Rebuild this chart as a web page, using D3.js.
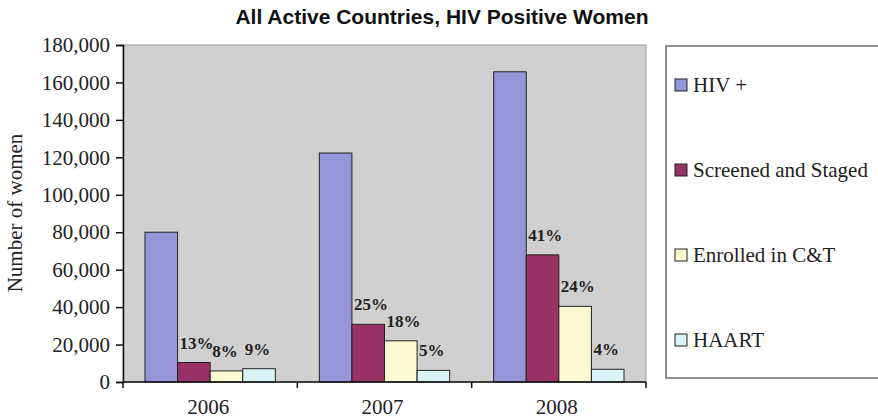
<!DOCTYPE html>
<html>
<head>
<meta charset="utf-8">
<script src="https://cdn.jsdelivr.net/npm/d3@7"></script>
<style>
  body { margin: 0; background: #fff; }
</style>
</head>
<body>
<div id="chart"></div>
<script>
// Data
const years = ["2006", "2007", "2008"];
const seriesNames = ["HIV +", "Screened and Staged", "Enrolled in C&T", "HAART"];
const hivPositive = [80000, 122300, 165700];
const screened = [10400, 30800, 67900];
const enrolled = [5900, 22000, 40400];
const haart = [7100, 6200, 6800];
const screenedPct = ["13%", "25%", "41%"];
const enrolledPct = ["8%", "18%", "24%"];
const haartPct = ["9%", "5%", "4%"];
const yTicks = [0, 20000, 40000, 60000, 80000, 100000, 120000, 140000, 160000, 180000];

const colors = ["#9595d7", "#993366", "#fbf9cf", "#d9f4f4"];
const seriesValues = [hivPositive, screened, enrolled, haart];
const seriesPct = [null, screenedPct, enrolledPct, haartPct];

const W = 878, H = 420;
const margin = { top: 45, left: 123 };
const width = 646 - 123, height = 382 - 45;

const svg = d3.select("#chart").append("svg")
    .attr("width", W)
    .attr("height", H);

const g = svg.append("g")
    .attr("transform", `translate(${margin.left},${margin.top})`);

// Scales
const x0 = d3.scaleBand()
    .domain(years)
    .range([0, width])
    .paddingInner(0)
    .paddingOuter(0);

const x1 = d3.scaleBand()
    .domain(d3.range(seriesNames.length))
    .range([22, x0.bandwidth() - 22]);

const y = d3.scaleLinear()
    .domain([0, 180000])
    .range([height, 0]);

// Plot background
g.append("rect")
    .attr("width", width)
    .attr("height", height)
    .attr("fill", "#d0d0d0")
    .attr("stroke", "#9a9a9a")
    .attr("stroke-width", 1);

// Bars
const rows = years.map((yr, i) => seriesValues.map((vals, s) => ({
    year: yr, s: s, value: vals[i], pct: seriesPct[s] ? seriesPct[s][i] : null
})));

const groups = g.selectAll(".year")
    .data(rows)
    .enter().append("g")
    .attr("transform", (d, i) => `translate(${x0(years[i])},0)`);

groups.selectAll("rect")
    .data(d => d)
    .enter().append("rect")
    .attr("x", d => x1(d.s))
    .attr("y", d => y(d.value))
    .attr("width", x1.bandwidth())
    .attr("height", d => height - y(d.value))
    .attr("fill", d => colors[d.s])
    .attr("stroke", "#222")
    .attr("stroke-width", 1);

groups.selectAll("text")
    .data(d => d.filter(e => e.pct))
    .enter().append("text")
    .attr("x", d => x1(d.s) + 2)
    .attr("y", d => y(d.value) - 14)
    .style("font-family", "'Liberation Serif', 'Times New Roman', serif")
    .style("font-weight", "bold")
    .style("font-size", "17px")
    .attr("fill", "#222")
    .text(d => d.pct);

// Y axis
const yAxis = g.append("g")
    .call(d3.axisLeft(y).tickValues(yTicks).tickFormat(d3.format(",")).tickSize(7).tickPadding(6));
yAxis.select(".domain").attr("stroke", "#111").attr("stroke-width", 1.5);
yAxis.selectAll("line").attr("stroke", "#111").attr("stroke-width", 1.5);
yAxis.selectAll("text")
    .style("font-family", "'Liberation Serif', 'Times New Roman', serif")
    .style("font-size", "21px")
    .attr("fill", "#222");

// X axis (ticks at category boundaries)
const xAxisG = g.append("g").attr("transform", `translate(0,${height})`);
xAxisG.append("line")
    .attr("x1", 0).attr("x2", width)
    .attr("stroke", "#111").attr("stroke-width", 1.5);
xAxisG.selectAll(".tick")
    .data([0, ...years.map(yr => x0(yr) + x0.bandwidth())])
    .enter().append("line")
    .attr("x1", d => d).attr("x2", d => d)
    .attr("y1", 0).attr("y2", 6)
    .attr("stroke", "#111").attr("stroke-width", 1.5);
xAxisG.selectAll(".lbl")
    .data(years)
    .enter().append("text")
    .attr("x", d => x0(d) + x0.bandwidth() / 2 - 2)
    .attr("y", 32)
    .attr("text-anchor", "middle")
    .style("font-family", "'Liberation Serif', 'Times New Roman', serif")
    .style("font-size", "21px")
    .attr("fill", "#222")
    .text(d => d);

// Y axis title
svg.append("text")
    .attr("transform", "rotate(-90)")
    .attr("x", -213)
    .attr("y", 22)
    .attr("text-anchor", "middle")
    .style("font-family", "'Liberation Serif', 'Times New Roman', serif")
    .style("font-size", "21px")
    .attr("fill", "#222")
    .text("Number of women");

// Title
svg.append("text")
    .attr("x", 442)
    .attr("y", 24)
    .attr("text-anchor", "middle")
    .style("font-family", "'Liberation Sans', Arial, sans-serif")
    .style("font-weight", "bold")
    .style("font-size", "21px")
    .attr("fill", "#111")
    .text("All Active Countries, HIV Positive Women");

// Legend
const legend = svg.append("g");
legend.append("rect")
    .attr("x", 666).attr("y", 46)
    .attr("width", 240).attr("height", 332)
    .attr("fill", "#fff")
    .attr("stroke", "#222").attr("stroke-width", 1);

const legendY = d3.scalePoint()
    .domain(seriesNames)
    .range([85, 340]);

const items = legend.selectAll(".item")
    .data(seriesNames)
    .enter().append("g")
    .attr("transform", d => `translate(675,${legendY(d)})`);

items.append("rect")
    .attr("x", 0).attr("y", -6)
    .attr("width", 12).attr("height", 12)
    .attr("fill", (d, i) => colors[i])
    .attr("stroke", "#222").attr("stroke-width", 1);

items.append("text")
    .attr("x", 18)
    .attr("y", 7)
    .style("font-family", "'Liberation Serif', 'Times New Roman', serif")
    .style("font-size", "21px")
    .attr("fill", "#222")
    .text(d => d);
</script>
</body>
</html>
